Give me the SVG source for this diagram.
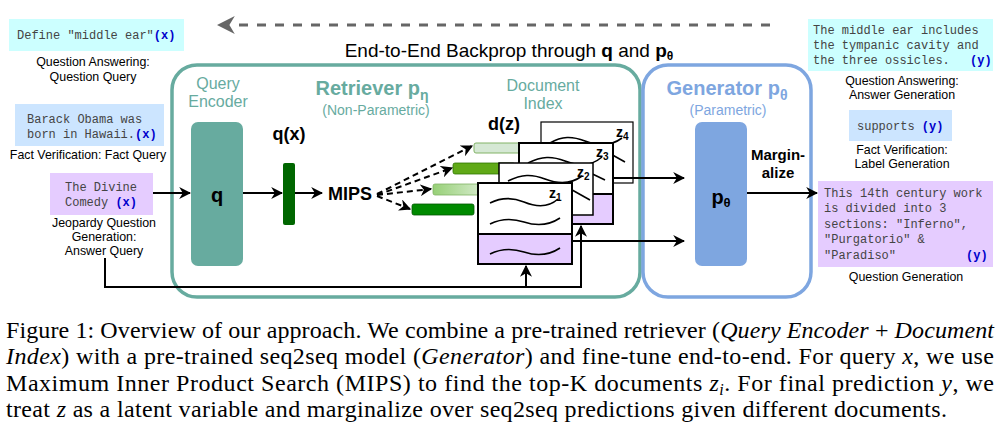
<svg xmlns="http://www.w3.org/2000/svg" width="1001" height="431" viewBox="0 0 1001 431">
<defs>
<style>
.mono{font-family:"Liberation Mono","DejaVu Sans Mono",monospace;font-size:12px;fill:#444}
.tag{font-family:"Liberation Mono","DejaVu Sans Mono",monospace;font-size:12px;font-weight:bold;fill:#0000CC}
.lbl{font-family:"Liberation Sans",Arial,sans-serif;font-size:12.4px;fill:#000;text-anchor:middle}
.teal{font-family:"Liberation Sans",Arial,sans-serif;fill:#67AB9F;text-anchor:middle}
.blu{font-family:"Liberation Sans",Arial,sans-serif;fill:#7EA6E0;text-anchor:middle}
.bold{font-family:"Liberation Sans",Arial,sans-serif;font-weight:bold;fill:#000;text-anchor:middle}
.cap{font-family:"Liberation Serif","Times New Roman",serif;font-size:24px;fill:#000}
.conn{fill:none;stroke:#000;stroke-width:2}
.dash{fill:none;stroke:#000;stroke-width:2;stroke-dasharray:6 4}
.doc{fill:#fff;stroke:#000}
.wave{fill:none;stroke:#000;stroke-width:1.6}
.zl{font-family:"Liberation Sans",Arial,sans-serif;font-size:14px;font-weight:bold;fill:#000}
</style>
<marker id="ah" viewBox="0 0 10 10" refX="9" refY="5" markerWidth="6" markerHeight="6" orient="auto" markerUnits="strokeWidth">
<path d="M0,0 L10,5 L0,10 L3,5 Z" fill="#000"/>
</marker>
<marker id="ahg" viewBox="0 0 10 10" refX="1" refY="5" markerWidth="6" markerHeight="6" orient="auto-start-reverse" markerUnits="strokeWidth">
<path d="M0,0 L10,5 L0,10 L3,5 Z" fill="#666"/>
</marker>
<linearGradient id="g2" x1="0" y1="0" x2="1" y2="0">
<stop offset="0" stop-color="#97D077"/>
<stop offset="1" stop-color="#E6F2E2"/>
</linearGradient>
</defs>
<rect width="1001" height="431" fill="#fff"/>

<g id="backprop">
<line x1="770" y1="25" x2="233" y2="25" stroke="#666" stroke-width="3" stroke-dasharray="9 9" marker-end="url(#ahg)"/>
<text x="509" y="57" style="font-family:'Liberation Sans',Arial,sans-serif;font-size:19px;fill:#000;text-anchor:middle">End-to-End Backprop through <tspan font-weight="bold">q</tspan> and <tspan font-weight="bold">p</tspan><tspan font-weight="bold" font-size="12" dy="3">θ</tspan></text>
</g>

<g id="retriever">
<rect x="172" y="65" width="468" height="232" rx="25" fill="none" stroke="#67AB9F" stroke-width="3.5"/>
<text class="teal" x="372" y="95" font-size="20" font-weight="bold">Retriever p<tspan font-size="14" dy="5">η</tspan></text>
<text class="teal" x="376" y="115" font-size="14">(Non-Parametric)</text>
</g>

<g id="generator">
<rect x="643" y="65" width="168" height="232" rx="25" fill="none" stroke="#7EA6E0" stroke-width="3.5"/>
<text class="blu" x="727" y="95" font-size="20" font-weight="bold">Generator p<tspan font-size="14" dy="5">θ</tspan></text>
<text class="blu" x="728" y="115" font-size="14">(Parametric)</text>
</g>

<g id="query-encoder">
<text class="teal" x="218" y="89" font-size="16">Query</text>
<text class="teal" x="218" y="107" font-size="16">Encoder</text>
<rect x="191" y="122" width="52" height="144" rx="7" fill="#67AB9F"/>
<text class="bold" x="217" y="202" font-size="20">q</text>
</g>

<g id="qx">
<text class="bold" x="289" y="140" font-size="18">q(x)</text>
<rect x="283" y="163" width="12" height="62" rx="2" fill="#006600"/>
</g>

<g id="mips">
<text class="bold" x="350" y="200" font-size="18">MIPS</text>
</g>

<g id="doc-bars">
<rect x="474" y="143" width="62" height="10" rx="2" fill="#D5E8D4" stroke="#82B366" stroke-width="1"/>
<rect x="453" y="163" width="62" height="11" rx="2" fill="#60A917" stroke="#2D7600" stroke-width="0.8"/>
<rect x="433" y="184" width="62" height="11" rx="2" fill="url(#g2)" stroke="#82B366" stroke-width="0.8"/>
<rect x="412" y="204" width="62" height="11" rx="2" fill="#008A00" stroke="#005700" stroke-width="0.8"/>
<text class="bold" x="504" y="130" font-size="18">d(z)</text>
</g>

<g id="document-index">
<text class="teal" x="543" y="91" font-size="16">Document</text>
<text class="teal" x="543" y="109" font-size="16">Index</text>
</g>

<g id="doc-z4">
<rect class="doc" x="541" y="122" width="92" height="61" stroke-width="1.2"/>
<path class="wave" d="M550,143 C562,136 572,136 585,141 S610,147 622,138"/>
<path class="wave" d="M600,148 L625,162"/>
<text class="zl" x="616" y="137">z<tspan font-size="10" dy="3">4</tspan></text>
</g>
<g id="doc-z3">
<rect class="doc" x="519" y="143" width="94" height="51" stroke-width="2"/>
<rect x="519" y="194" width="94" height="30" fill="#E5CCFF" stroke="#000" stroke-width="2"/>
<path class="wave" d="M528,163 C542,156 552,156 565,161 S590,167 602,157"/>
<path class="wave" d="M580,168 L605,180"/>
<text class="zl" x="596" y="157">z<tspan font-size="10" dy="3">3</tspan></text>
</g>
<g id="doc-z2">
<rect class="doc" x="499" y="163" width="94" height="52" stroke-width="1.5"/>
<path class="wave" d="M508,181 C522,174 532,174 545,179 S570,185 582,176"/>
<path class="wave" d="M565,186 L590,200"/>
<text class="zl" x="577" y="177">z<tspan font-size="10" dy="3">2</tspan></text>
</g>
<g id="doc-z1">
<rect class="doc" x="478" y="183" width="94" height="51" stroke-width="2"/>
<rect x="478" y="234" width="94" height="30" fill="#E5CCFF" stroke="#000" stroke-width="2"/>
<path class="wave" d="M490,203 C502,197 512,197 524,202 S548,208 558,199"/>
<path class="wave" d="M490,224 C502,218 512,218 524,222 S548,226 560,218"/>
<path class="wave" d="M490,254 C502,248 512,248 524,252 S548,256 560,248"/>
<text class="zl" x="549" y="198">z<tspan font-size="10" dy="3">1</tspan></text>
</g>

<g id="generator-p">
<rect x="695" y="122" width="52" height="144" rx="7" fill="#7EA6E0"/>
<text class="bold" x="721" y="204" font-size="20">p<tspan font-size="13" dy="3">θ</tspan></text>
<text class="bold" x="778" y="160" font-size="15">Margin-</text>
<text class="bold" x="778" y="178" font-size="15">alize</text>
</g>

<g id="connectors">
<line class="conn" x1="153" y1="193" x2="190" y2="193" marker-end="url(#ah)"/>
<line class="conn" x1="243" y1="193" x2="282" y2="193" marker-end="url(#ah)"/>
<line class="conn" x1="295" y1="193" x2="322" y2="193" marker-end="url(#ah)"/>
<line class="dash" x1="377" y1="194" x2="472" y2="146" marker-end="url(#ah)"/>
<line class="dash" x1="377" y1="195" x2="452" y2="168" marker-end="url(#ah)"/>
<line class="dash" x1="377" y1="195" x2="431" y2="189" marker-end="url(#ah)"/>
<line class="dash" x1="377" y1="196" x2="410" y2="209" marker-end="url(#ah)"/>
<line class="conn" x1="613" y1="178" x2="684" y2="178" marker-end="url(#ah)"/>
<line class="conn" x1="572" y1="241" x2="684" y2="241" marker-end="url(#ah)"/>
<line class="conn" x1="747" y1="193" x2="817" y2="193" marker-end="url(#ah)"/>
<path class="conn" d="M105,258 V287 H581 V226" marker-end="url(#ah)"/>
<line class="conn" x1="526" y1="287" x2="526" y2="266" marker-end="url(#ah)"/>
</g>

<g id="input-qa">
<rect x="9" y="19" width="175" height="32" fill="#CCFFFF"/>
<text class="mono" x="17" y="39">Define "middle ear"<tspan class="tag">(x)</tspan></text>
<text class="lbl" x="93" y="66">Question Answering:</text>
<text class="lbl" x="93" y="81">Question Query</text>
</g>
<g id="input-fv">
<rect x="15" y="104" width="149" height="42" fill="#CCE5FF"/>
<text class="mono" x="27" y="123">Barack Obama was</text>
<text class="mono" x="27" y="138">born in Hawaii.<tspan class="tag">(x)</tspan></text>
<text class="lbl" x="88" y="159">Fact Verification: Fact Query</text>
</g>
<g id="input-jeopardy">
<rect x="50" y="173" width="103" height="42" fill="#E5CCFF"/>
<text class="mono" x="65" y="191">The Divine</text>
<text class="mono" x="65" y="206">Comedy <tspan class="tag">(x)</tspan></text>
<text class="lbl" x="104" y="227">Jeopardy Question</text>
<text class="lbl" x="104" y="241">Generation:</text>
<text class="lbl" x="104" y="255">Answer Query</text>
</g>

<g id="output-qa">
<rect x="808" y="19" width="185" height="52" fill="#CCFFFF"/>
<text class="mono" x="813" y="34">The middle ear includes</text>
<text class="mono" x="813" y="49">the tympanic cavity and</text>
<text class="mono" x="813" y="64">the three ossicles.</text>
<text class="tag" x="970" y="64">(y)</text>
<text class="lbl" x="902" y="85">Question Answering:</text>
<text class="lbl" x="902" y="99">Answer Generation</text>
</g>
<g id="output-fv">
<rect x="849" y="110" width="103" height="31" fill="#CCE5FF"/>
<text class="mono" x="857" y="130">supports <tspan class="tag">(y)</tspan></text>
<text class="lbl" x="902" y="154">Fact Verification:</text>
<text class="lbl" x="902" y="168">Label Generation</text>
</g>
<g id="output-jeopardy">
<rect x="818" y="181" width="175" height="86" fill="#E5CCFF"/>
<text class="mono" x="824" y="197">This 14th century work</text>
<text class="mono" x="824" y="212">is divided into 3</text>
<text class="mono" x="824" y="228">sections: "Inferno",</text>
<text class="mono" x="824" y="243">"Purgatorio" &amp;</text>
<text class="mono" x="824" y="259">"Paradiso"</text>
<text class="tag" x="966" y="259">(y)</text>
<text class="lbl" x="906" y="281">Question Generation</text>
</g>

<g id="caption">
<text class="cap" x="6" y="338" textLength="988" lengthAdjust="spacing">Figure 1: Overview of our approach. We combine a pre-trained retriever (<tspan font-style="italic">Query Encoder</tspan> + <tspan font-style="italic">Document</tspan></text>
<text class="cap" x="6" y="364" textLength="988" lengthAdjust="spacing"><tspan font-style="italic">Index</tspan>) with a pre-trained seq2seq model (<tspan font-style="italic">Generator</tspan>) and fine-tune end-to-end. For query <tspan font-style="italic">x</tspan>, we use</text>
<text class="cap" x="6" y="391" textLength="988" lengthAdjust="spacing">Maximum Inner Product Search (MIPS) to find the top-K documents <tspan font-style="italic">z</tspan><tspan font-style="italic" font-size="16" dy="4">i</tspan><tspan dy="-4">. For final prediction </tspan><tspan font-style="italic">y</tspan>, we</text>
<text class="cap" x="6" y="417" textLength="941" lengthAdjust="spacing">treat <tspan font-style="italic">z</tspan> as a latent variable and marginalize over seq2seq predictions given different documents.</text>
</g>
</svg>
